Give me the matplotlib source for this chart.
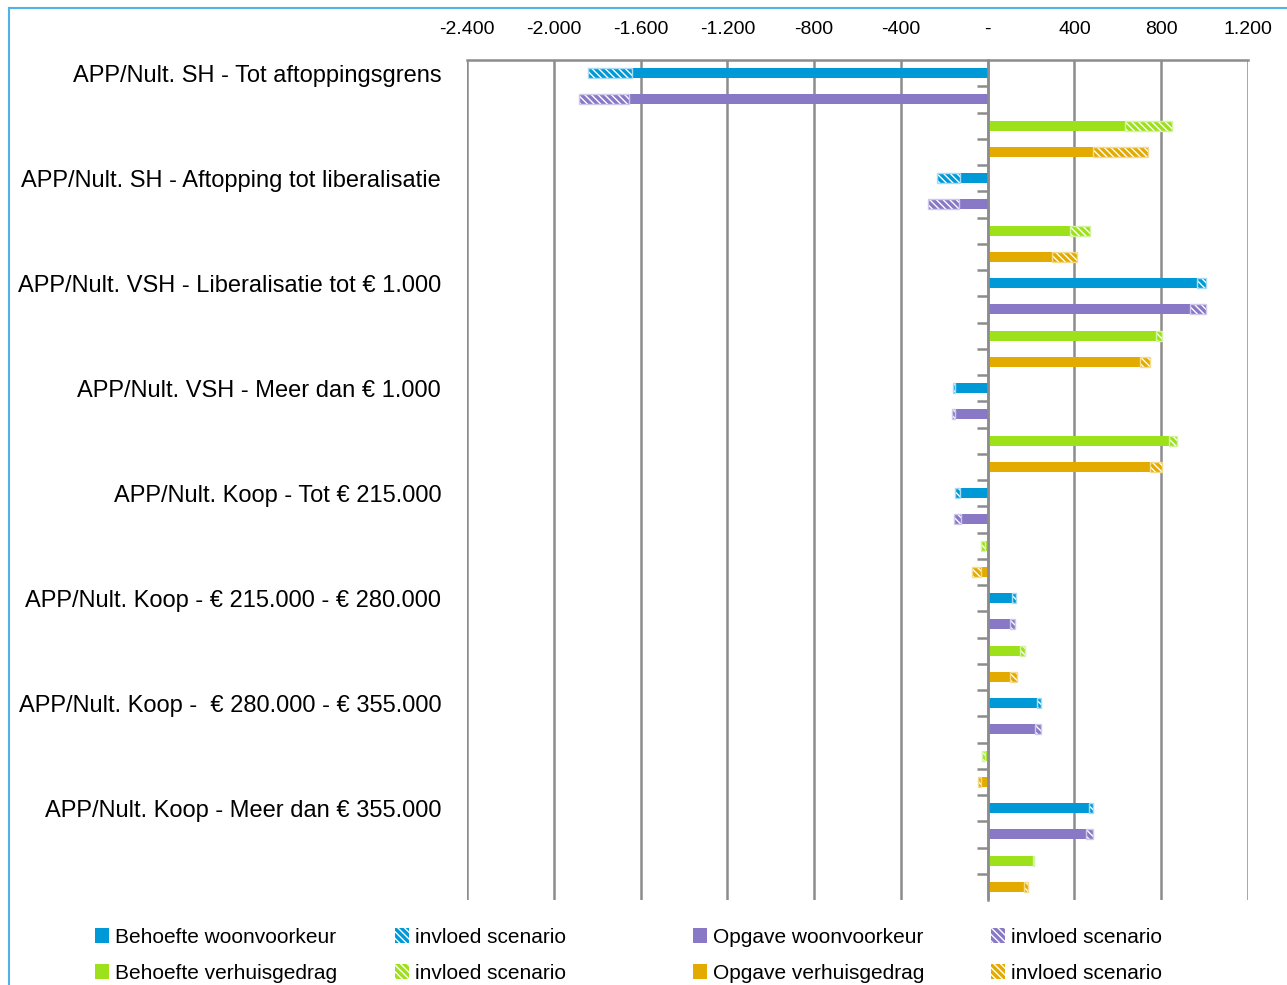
import numpy as np
import matplotlib
matplotlib.use("Agg")
import matplotlib.pyplot as plt
import matplotlib.transforms as mtransforms
from matplotlib.patches import Patch
from matplotlib.lines import Line2D

# data
categories = [
    "APP/Nult. SH - Tot aftoppingsgrens",
    "APP/Nult. SH - Aftopping tot liberalisatie",
    "APP/Nult. VSH - Liberalisatie tot € 1.000",
    "APP/Nult. VSH - Meer dan € 1.000",
    "APP/Nult. Koop - Tot € 215.000",
    "APP/Nult. Koop - € 215.000 - € 280.000",
    "APP/Nult. Koop -  € 280.000 - € 355.000",
    "APP/Nult. Koop - Meer dan € 355.000",
]
blue_base = [-1640, -129, 966, -149, -126, 112, 227, 467]
blue_scen = [-203, -106, 42, -11, -23, 18, 20, 20]
purple_base = [-1653, -134, 934, -152, -121, 103, 220, 452]
purple_scen = [-232, -142, 74, -12, -34, 24, 25, 35]
green_base = [631, 378, 774, 835, -10, 149, -14, 209]
green_scen = [217, 95, 31, 39, -22, 25, -14, 3]
orange_base = [484, 298, 700, 750, -32, 103, -32, 169]
orange_scen = [253, 113, 50, 55, -42, 32, -13, 15]

series_names = ["Behoefte woonvoorkeur", "Opgave woonvoorkeur",
                "Behoefte verhuisgedrag", "Opgave verhuisgedrag"]
scen_label = "invloed scenario"
xticks = [-2400, -2000, -1600, -1200, -800, -400, 0, 400, 800, 1200]
xtick_labels = ["-2.400", "-2.000", "-1.600", "-1.200", "-800", "-400", "-", "400", "800", "1.200"]

colors = ["#0099D8", "#8878C6", "#9DE11B", "#E3AA00"]
light = ["#A8DAF2", "#CFC8EA", "#D4F3A0", "#F3DA8C"]
FONT = ["Liberation Sans", "DejaVu Sans"]
HATCH = "\\\\\\\\\\"

plt.rcParams["font.family"] = FONT
plt.rcParams["hatch.linewidth"] = 2.4

W, H = 1287, 985
fig = plt.figure(figsize=(W / 100, H / 100), dpi=100)
ax = fig.add_axes([467 / W, 1 - 900 / H, (1248 - 467) / W, (900 - 60) / H])

bases = [blue_base, purple_base, green_base, orange_base]
scens = [blue_scen, purple_scen, green_scen, orange_scen]
h = 0.38
for j, (b, s, c, lc) in enumerate(zip(bases, scens, colors, light)):
    y = np.arange(len(categories)) * 4 + j
    ax.barh(y, b, height=h, color=c, lw=0, zorder=3)
    ax.barh(y, s, left=b, height=h, facecolor="white", edgecolor=c, hatch=HATCH, lw=0, zorder=3)
    ax.barh(y, s, left=b, height=h, facecolor="none", edgecolor=lc, lw=1.0, zorder=3)

ax.set_xlim(-2400, 1200)
ax.set_ylim(len(categories) * 4 - 0.5, -0.5)

# x axis on top
ax.xaxis.tick_top()
ax.set_xticks(xticks)
ax.set_xticklabels(xtick_labels, fontsize=14)
ax.tick_params(axis="x", length=0, pad=16)
ax.grid(axis="x", color="#8c8c8c", lw=1.8, zorder=1)

for side in ["right", "bottom"]:
    ax.spines[side].set_visible(False)
ax.spines["top"].set_color("#8c8c8c")
ax.spines["top"].set_linewidth(1.8)
ax.spines["left"].set_position(("data", 0))
ax.spines["left"].set_color("#8c8c8c")
ax.spines["left"].set_linewidth(1.8)
ax.spines["left"].set_zorder(4)

# category boundary ticks on the zero line
ax.set_yticks(np.arange(0.5, len(categories) * 4 - 1, 1.0))
ax.set_yticklabels([])
ax.tick_params(axis="y", length=8, width=1.8, color="#8c8c8c", direction="out")

trans = mtransforms.blended_transform_factory(ax.transAxes, ax.transData)
for i, cat in enumerate(categories):
    ax.text(-0.033, i * 4 + 0.1, cat, transform=trans, ha="right", va="center", fontsize=17)

# legend, four columns placed separately
col_x = [95, 395, 693, 991]
groups = [
    [Patch(facecolor=colors[0], lw=0), Patch(facecolor=colors[2], lw=0)],
    [Patch(facecolor="white", edgecolor=colors[0], hatch=HATCH, lw=0),
     Patch(facecolor="white", edgecolor=colors[2], hatch=HATCH, lw=0)],
    [Patch(facecolor=colors[1], lw=0), Patch(facecolor=colors[3], lw=0)],
    [Patch(facecolor="white", edgecolor=colors[1], hatch=HATCH, lw=0),
     Patch(facecolor="white", edgecolor=colors[3], hatch=HATCH, lw=0)],
]
labels = [[series_names[0], series_names[2]], [scen_label, scen_label],
          [series_names[1], series_names[3]], [scen_label, scen_label]]
for x, hs, ls in zip(col_x, groups, labels):
    fig.legend(hs, ls, loc="upper left", bbox_to_anchor=(x / W, 1 - 928 / H), frameon=False,
               fontsize=15, handlelength=0.65, handleheight=0.75, handletextpad=0.3,
               labelspacing=0.8, borderpad=0, borderaxespad=0)

# blue frame of the chart area
fig.add_artist(Line2D([9 / W, 9 / W], [0, 1 - 8 / H], color="#4FB3E3", lw=1.5))
fig.add_artist(Line2D([9 / W, 1], [1 - 8 / H, 1 - 8 / H], color="#4FB3E3", lw=1.5))

fig.savefig("out.png", dpi=100)
